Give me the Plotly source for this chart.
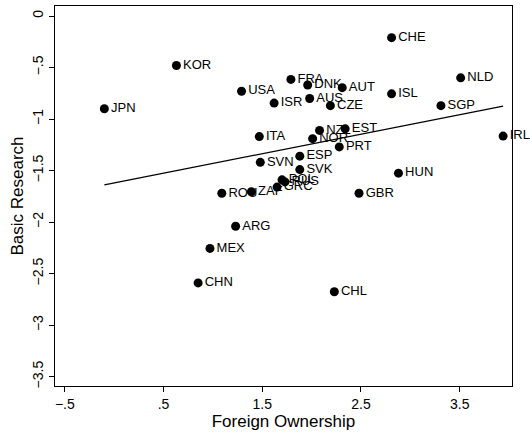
import numpy as np
import plotly.graph_objects as go

# Country codes with foreign ownership (x) and basic research (y) scores
countries = ["KOR", "JPN", "USA", "ISR", "FRA", "ITA", "SVN", "ROU", "ZAF",
             "ARG", "MEX", "CHN", "CHE", "NLD", "DNK", "AUT", "ISL", "AUS",
             "CZE", "SGP", "NZL", "EST", "IRL", "NOR", "PRT", "ESP", "SVK",
             "HUN", "GBR", "CHL", "POL", "RUS", "GRC"]
foreign_ownership = [0.63, -0.10, 1.29, 1.62, 1.79, 1.47, 1.48, 1.09, 1.39,
                     1.23, 0.97, 0.85, 2.81, 3.51, 1.96, 2.31, 2.81, 1.98,
                     2.19, 3.31, 2.08, 2.34, 3.94, 2.01, 2.28, 1.88, 1.88,
                     2.88, 2.48, 2.23, 1.70, 1.73, 1.65]
basic_research = [-0.48, -0.90, -0.73, -0.845, -0.615, -1.17, -1.42, -1.72, -1.705,
                  -2.04, -2.255, -2.59, -0.21, -0.60, -0.67, -0.695, -0.755, -0.80,
                  -0.87, -0.87, -1.11, -1.095, -1.165, -1.19, -1.27, -1.36, -1.49,
                  -1.525, -1.72, -2.675, -1.59, -1.61, -1.66]

x_ticks = [-0.5, 0.5, 1.5, 2.5, 3.5]
x_tick_text = ["\u2212.5", ".5", "1.5", "2.5", "3.5"]
y_ticks = [0, -0.5, -1, -1.5, -2, -2.5, -3, -3.5]
y_tick_text = ["0", "\u2212.5", "\u22121", "\u22121.5", "\u22122", "\u22122.5", "\u22123", "\u22123.5"]

x = np.array(foreign_ownership)
y = np.array(basic_research)
slope, intercept = np.polyfit(x, y, 1)
fit_x = np.array([x.min(), x.max()])
fit_y = intercept + slope * fit_x

font = "Liberation Sans, Arial, sans-serif"

fig = go.Figure()
fig.add_trace(go.Scatter(
    x=foreign_ownership, y=basic_research, mode="markers+text",
    text=countries, textposition="middle right",
    textfont=dict(family=font, size=13, color="black"),
    marker=dict(color="black", size=9),
    cliponaxis=False, showlegend=False,
))
fig.add_trace(go.Scatter(
    x=fit_x, y=fit_y, mode="lines",
    line=dict(color="black", width=1.3), showlegend=False,
))

axis_common = dict(
    showline=True, linecolor="black", linewidth=1, mirror=True,
    ticks="outside", ticklen=5, tickcolor="black", tickwidth=1,
    showgrid=False, zeroline=False,
    tickfont=dict(family=font, size=14, color="black"),
)
fig.update_xaxes(
    range=[-0.60, 4.03], tickvals=x_ticks, ticktext=x_tick_text,
    title=dict(text="Foreign Ownership", font=dict(family=font, size=17, color="black"), standoff=2),
    **axis_common,
)
fig.update_yaxes(
    range=[-3.59, 0.097], tickvals=y_ticks, ticktext=y_tick_text, tickangle=-90,
    title=dict(text="Basic Research", font=dict(family=font, size=17, color="black"), standoff=2),
    **axis_common,
)
fig.update_layout(
    width=530, height=434,
    margin=dict(l=55, r=18, t=6, b=48),
    paper_bgcolor="white", plot_bgcolor="white",
)
fig.write_html("out.html")
